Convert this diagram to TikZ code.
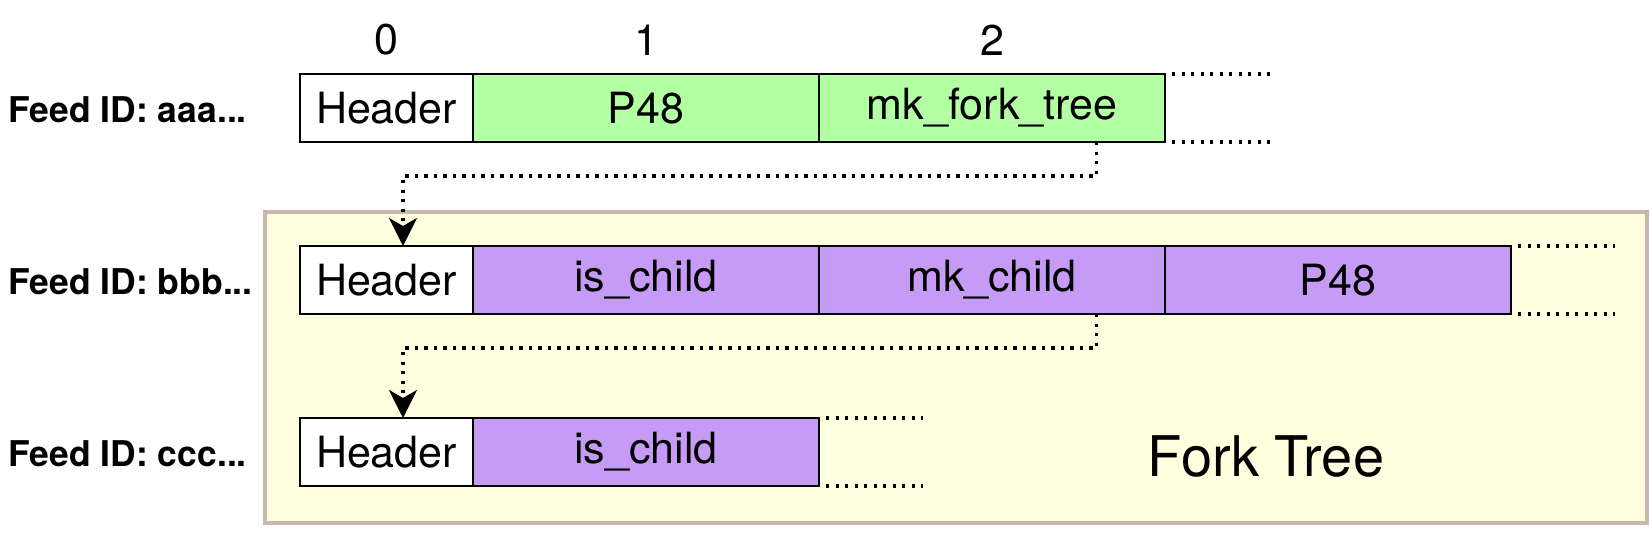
\documentclass[tikz,border=0pt]{standalone}
\usepackage{fontspec}
\setmainfont{TeX Gyre Heros}
\usetikzlibrary{arrows.meta, positioning}
\definecolor{treefill}{RGB}{255,255,224}
\definecolor{treeline}{RGB}{205,182,172}
\definecolor{rootgreen}{RGB}{179,255,163}
\definecolor{childpurple}{RGB}{197,155,245}

\begin{document}
\begin{tikzpicture}[x=1pt, y=-1pt,
  cell/.style={draw, line width=2.6pt, minimum height=68pt, inner sep=0pt, outer sep=0pt, anchor=west, font=\fontsize{43}{50}\selectfont},
  hdr/.style={cell, fill=white, minimum width=173pt},
  slot/.style={cell, minimum width=346pt},
  feed/.style={anchor=west, inner sep=0pt, font=\fontsize{35.5}{42}\selectfont\bfseries},
  idx/.style={inner sep=0pt, font=\fontsize{43}{50}\selectfont},
  trail/.style={line width=3.2pt, dash pattern=on 3.2pt off 6.3pt},
  link/.style={trail, -{Stealth[length=28pt, width=28pt, inset=8pt]}}
]
  \fill[white] (0,0) rectangle (1652,538);
  \useasboundingbox (0,0) rectangle (1652,538);

  % fork tree area
  \draw[line width=3.2pt, draw=treeline, fill=treefill] (265,212) rectangle (1647,523);
  \node[font=\fontsize{56}{64}\selectfont] (FT) at (1266,457) {Fork Tree};

  % feed aaa
  \node[feed] (F1) at (8,110) {Feed ID: aaa...};
  \node[hdr] (H1) at (300,108) {Header};
  \node[slot, fill=rootgreen, right=0pt of H1] (A1) {P48};
  \node[slot, fill=rootgreen, right=0pt of A1] (A2) {mk\_fork\_tree};
  \node[idx] (I0) at (H1 |- 0,40) {0};
  \node[idx] (I1) at (A1 |- 0,40) {1};
  \node[idx] (I2) at (A2 |- 0,40) {2};

  % feed bbb
  \node[feed] (F2) at (8,282) {Feed ID: bbb...};
  \node[hdr] (H2) at (300,280) {Header};
  \node[slot, fill=childpurple, right=0pt of H2] (B1) {is\_child};
  \node[slot, fill=childpurple, right=0pt of B1] (B2) {mk\_child};
  \node[slot, fill=childpurple, right=0pt of B2] (B3) {P48};

  % feed ccc
  \node[feed] (F3) at (8,454) {Feed ID: ccc...};
  \node[hdr] (H3) at (300,452) {Header};
  \node[slot, fill=childpurple, right=0pt of H3] (C1) {is\_child};

  % open ends
  \draw[trail] ([xshift=7pt]A2.north east) -- ([xshift=106pt]A2.north east);
  \draw[trail] ([xshift=7pt]A2.south east) -- ([xshift=106pt]A2.south east);
  \draw[trail] ([xshift=7pt]B3.north east) -- ([xshift=104pt]B3.north east);
  \draw[trail] ([xshift=7pt]B3.south east) -- ([xshift=104pt]B3.south east);
  \draw[trail] ([xshift=7pt]C1.north east) -- ([xshift=104pt]C1.north east);
  \draw[trail] ([xshift=7pt]C1.south east) -- ([xshift=104pt]C1.south east);

  % fork links
  \coordinate (bend1) at (403,176);
  \coordinate (bend2) at (403,348);
  \draw[link] ([xshift=104.5pt]A2.south) |- (bend1) -- (bend1 |- H2.north);
  \draw[link] ([xshift=104.5pt]B2.south) |- (bend2) -- (bend2 |- H3.north);
\end{tikzpicture}
\end{document}
